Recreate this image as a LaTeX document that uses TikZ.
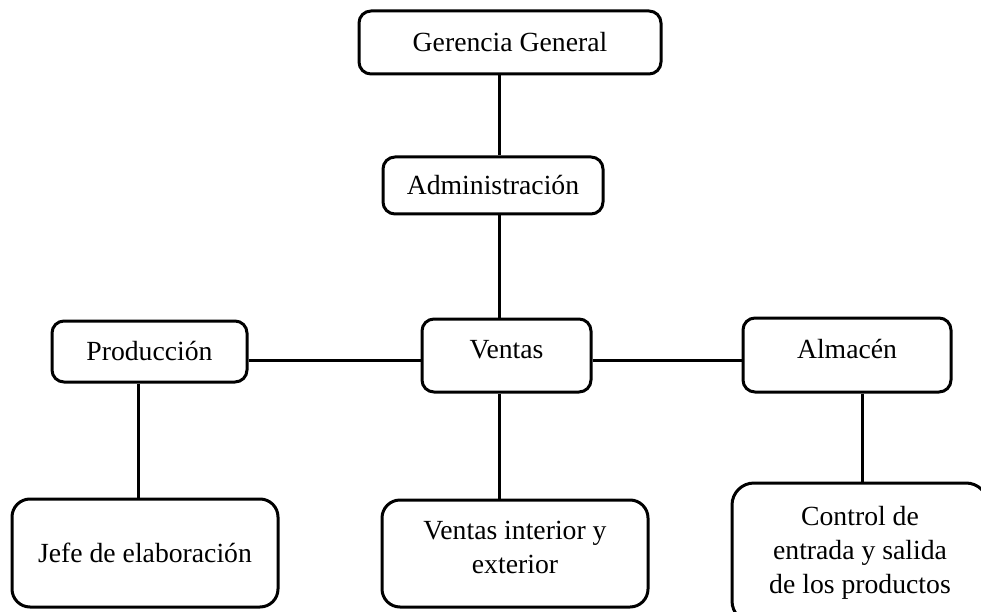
\documentclass[tikz,border=0pt]{standalone}
\usepackage{fontspec}
\setmainfont{Liberation Serif}
\begin{document}
\begin{tikzpicture}[x=1pt,y=-1pt,
  every node/.style={font=\fontsize{27.7}{33.8}\selectfont},
  box/.style={draw=black, line width=3pt, rounded corners=12pt, inner sep=0pt, align=center},
  unit/.style={box, text height=19pt, text depth=0pt},
  bigunit/.style={box, rounded corners=18pt},
  link/.style={line width=3pt}]
  % page frame
  \clip (0,0) rectangle (981,612);

  % boxes
  \node[unit, minimum width=302pt, minimum height=63pt] (gg)   at (510,42.5)  {Gerencia General};
  \node[unit, minimum width=220pt, minimum height=57pt] (adm)  at (493,185.5) {Administración};
  \node[unit, minimum width=195pt, minimum height=61pt, text depth=2pt] (prod) at (149.5,351.5) {Producción};
  \node[unit, minimum width=169pt, minimum height=73pt, text depth=13pt] (vent) at (506.5,355.5) {Ventas};
  \node[unit, minimum width=208pt, minimum height=74pt, text depth=13pt] (alm)  at (847,355) {Almacén};
  \node[unit, rounded corners=18pt, minimum width=266pt, minimum height=108pt, text depth=1pt] (jefe) at (145,553) {Jefe de elaboración};
  \node[bigunit, minimum width=266pt, minimum height=107pt, text depth=12pt] (vi) at (515,553.5) {Ventas interior y\\exterior};
  \node[bigunit, minimum width=256pt, minimum height=140pt, rounded corners=22pt] (ctl) at (860,553) {Control de\\entrada y salida\\de los productos};

  % connector guides
  \coordinate (spine) at (499,360);
  \coordinate (colP) at (138,0);
  \coordinate (colA) at (862,0);

  % connectors
  \draw[link] (gg.south -| spine) -- (adm.north -| spine);
  \draw[link] (adm.south -| spine) -- (vent.north -| spine);
  \draw[link] (vent.south -| spine) -- (vi.north -| spine);
  \draw[link] (prod.east |- spine) -- (vent.west |- spine);
  \draw[link] (vent.east |- spine) -- (alm.west |- spine);
  \draw[link] (prod.south -| colP) -- (jefe.north -| colP);
  \draw[link] (alm.south -| colA) -- (ctl.north -| colA);
\end{tikzpicture}
\end{document}
